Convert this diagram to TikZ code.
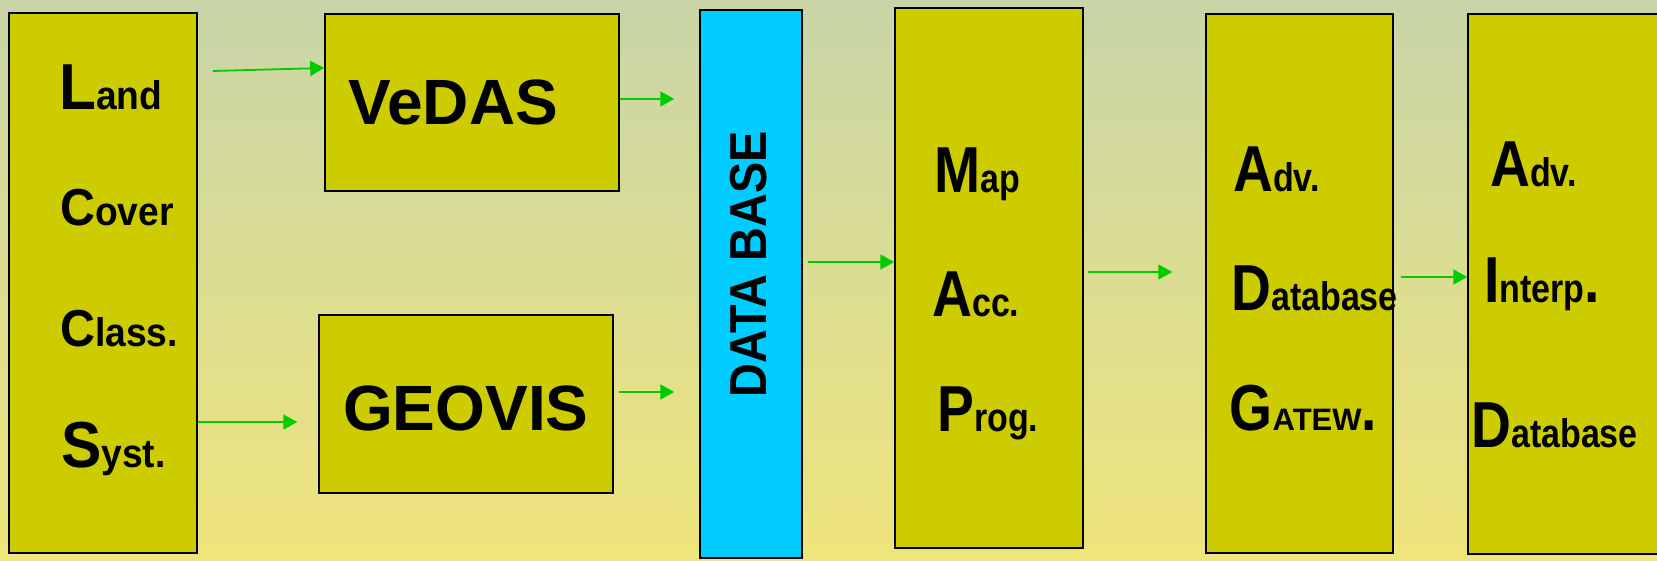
\documentclass[tikz,border=0pt]{standalone}
\usepackage{fontspec}
\setmainfont{Liberation Sans}
\usetikzlibrary{arrows.meta,calc}
\definecolor{fondhaut}{RGB}{201,213,168}
\definecolor{fondbas}{RGB}{239,229,124}
\definecolor{jaune}{RGB}{204,204,0}
\definecolor{bleu}{RGB}{0,204,255}
\definecolor{vert}{RGB}{0,204,0}
\newcommand{\etroit}{.85}
\newcommand{\lettre}[3][65]{\scalebox{\etroit}[1]{\fontsize{#1}{#1}\selectfont #2\fontsize{40}{40}\selectfont #3}}

\begin{document}
\begin{tikzpicture}[x=1pt,y=1pt,
    boite/.style={draw=black, line width=1.5pt, fill=jaune, inner sep=0pt},
    mot/.style={anchor=base west, inner sep=0pt, font=\bfseries},
    fleche/.style={draw=vert, line width=1.8pt, -{Triangle[length=14pt,width=15pt]}}]
          \shade[top color=fondhaut, bottom color=fondbas] (0,0) rectangle (1657,560);
          \useasboundingbox (0,0) rectangle (1657,560);

          % Les boites
          \node[boite, minimum width=188pt, minimum height=540pt] (lccs) at (103,277) {};
          \node[boite, minimum width=294pt, minimum height=177pt] (vedas) at (472,457.5) {};
          \node[boite, minimum width=294pt, minimum height=178pt] (geovis) at (466,156) {};
          \node[boite, fill=bleu, minimum width=102pt, minimum height=548pt] (db) at (751,276) {};
          \node[boite, minimum width=188pt, minimum height=540pt] (map) at (989,282) {};
          \node[boite, minimum width=187pt, minimum height=539pt] (adg) at (1299.5,276.5) {};
          \node[boite, minimum width=197pt, minimum height=540pt] (aid) at (1566.5,276) {};

          % Les textes
          \node[mot] (land) at (59,450) {\renewcommand{\etroit}{.93}\lettre{L}{and}};
          \node[mot] (cover) at (60,334) {\renewcommand{\etroit}{.93}\lettre[52]{C}{over}};
          \node[mot] (class) at (60,213) {\renewcommand{\etroit}{.93}\lettre[52]{C}{lass.}};
          \node[mot] (syst) at (61,93) {\renewcommand{\etroit}{.93}\lettre{S}{yst.}};
          \node[mot, font=\bfseries\fontsize{64}{64}\selectfont] (vedastxt) at (348,435) {VeDAS};
          \node[mot, font=\bfseries\fontsize{64}{64}\selectfont] (geovistxt) at (343,130) {GEOVIS};
          \node[inner sep=0pt, rotate=90, font=\bfseries\fontsize{52}{52}\selectfont] (dbtxt) at (749,295.5) {\scalebox{.9}[1]{DATA BASE}};
          \node[mot] (maptxt) at (934,367) {\lettre{M}{ap}};
          \node[mot] (acc) at (932,243) {\lettre{A}{cc.}};
          \node[mot] (prog) at (937,129) {\lettre{P}{rog.}};
          \node[mot] (adv) at (1233,368) {\lettre{A}{dv.}};
          \node[mot] (dbase) at (1231,249) {\lettre{D}{atabase}};
          \node[mot] (gatew) at (1229.5,130) {\scalebox{.85}[1]{\fontsize{65}{65}\selectfont G}{\fontsize{31}{31}\selectfont ATEW}\scalebox{.85}[1]{\fontsize{65}{65}\selectfont .}};
          \node[mot] (advb) at (1490,373) {\lettre{A}{dv.}};
          \node[mot] (interp) at (1484,257) {\scalebox{.85}[1]{\fontsize{65}{65}\selectfont I\fontsize{40}{40}\selectfont nterp\fontsize{65}{65}\selectfont .}};
          \node[mot] (dbaseb) at (1471,113) {\lettre{D}{atabase}};

          % Les fleches
          \draw[fleche] ($(lccs.east |- 0,489)+(15,0)$) -- (vedas.west |- 0,492);
          \draw[fleche] (vedas.east |- 0,461) -- ($(db.west |- 0,461)+(-25,0)$);
          \draw[fleche] (lccs.east |- 0,138) -- ($(geovis.west |- 0,138)+(-21,0)$);
          \draw[fleche] ($(geovis.east |- 0,168)+(5,0)$) -- ($(db.west |- 0,168)+(-25,0)$);
          \draw[fleche] ($(db.east |- 0,298)+(5,0)$) -- (map.west |- 0,298);
          \draw[fleche] ($(map.east |- 0,288)+(4,0)$) -- ($(adg.west |- 0,288)+(-33,0)$);
          \draw[fleche] ($(adg.east |- 0,283)+(7,0)$) -- (aid.west |- 0,283);
      \end{tikzpicture}
\end{document}
